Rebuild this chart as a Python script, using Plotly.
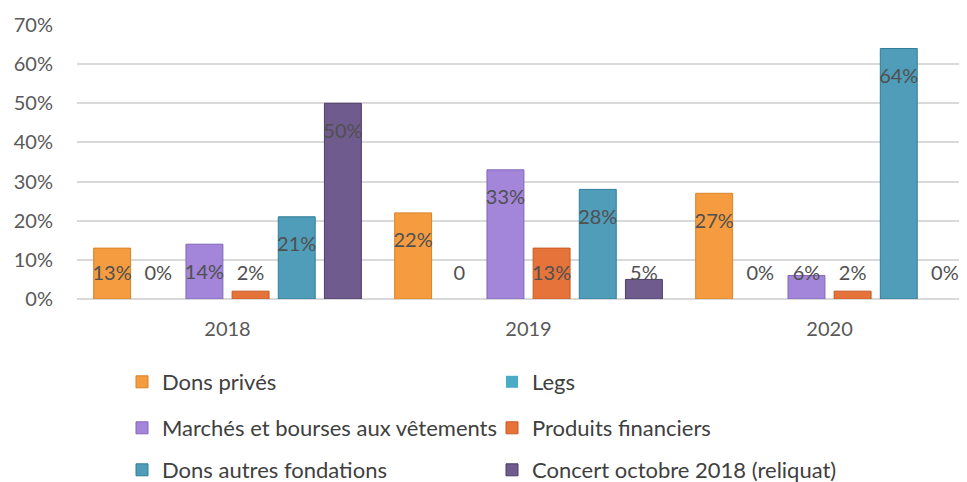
import plotly.graph_objects as go

years = ["2018", "2019", "2020"]
series_names = [
    "Dons privés",
    "Legs",
    "Marchés et bourses aux vêtements",
    "Produits financiers",
    "Dons autres fondations",
    "Concert octobre 2018 (reliquat)",
]
dons_prives = [0.13, 0.22, 0.27]
legs = [0.0, 0.0, 0.0]
marches = [0.14, 0.33, 0.06]
produits_financiers = [0.02, 0.13, 0.02]
dons_fondations = [0.21, 0.28, 0.64]
concert = [0.50, 0.05, 0.0]

legs_labels = ["0%", "0", "0%"]

values = [dons_prives, legs, marches, produits_financiers, dons_fondations, concert]
colors = ["#F59C40", "#4BACC6", "#A385DA", "#E6743A", "#4F9DB8", "#6F5B8E"]
line_colors = ["#D9822A", "#3A93AB", "#8366B8", "#C65A24", "#2F7E98", "#4E3D6A"]
legend_ids = ["legend", "legend", "legend2", "legend2", "legend3", "legend3"]

bargap = 0.08
bargroupgap = 0.2
n = len(series_names)
slot = (1 - bargap) / n

fig = go.Figure()
xs = list(range(len(years)))
for i, (name, vals) in enumerate(zip(series_names, values)):
    fig.add_trace(go.Bar(
        x=xs, y=vals, name=name,
        marker=dict(color=colors[i],
                    line=dict(color=line_colors[i],
                              width=[1 if v > 0 else 0 for v in vals])),
        legend=legend_ids[i],
        hoverinfo="skip",
    ))

# data labels (inside end, clamped near the base for small bars)
for i, vals in enumerate(values):
    if i == 1:
        texts = legs_labels
    else:
        texts = [f"{round(v * 100)}%" for v in vals]
    lx = [x + (i - (n - 1) / 2) * slot for x in xs]
    ly = [max(v - 0.075, 0.062) for v in vals]
    fig.add_trace(go.Scatter(
        x=lx, y=ly, text=texts, mode="text",
        textfont=dict(family="Lato", size=20, color="#505050"),
        showlegend=False, hoverinfo="skip", cliponaxis=False,
    ))

# the page shows the figure offset by 8px (body margin); compensate
off = 8
W, H = 967, 482
grid = "#D9D9D9"
fig.update_layout(
    width=W, height=H,
    margin=dict(l=77 - off, r=off, t=25 - off, b=H - (299 - off), autoexpand=False),
    paper_bgcolor="white", plot_bgcolor="white",
    barmode="group", bargap=bargap, bargroupgap=bargroupgap,
    font=dict(family="Lato", size=20, color="#595959"),
    xaxis=dict(
        range=[-0.5, 2.5 - 13 / 300], tickvals=xs, ticktext=years,
        showgrid=False, zeroline=False, showline=False,
        ticklabelstandoff=16, fixedrange=True,
    ),
    yaxis=dict(
        range=[0, 0.7], dtick=0.1, tickformat=".0%",
        showgrid=True, gridcolor=grid, gridwidth=2,
        zeroline=True, zerolinecolor=grid, zerolinewidth=2,
        showline=False, ticklabelstandoff=23, fixedrange=True,
    ),
)
leg_common = dict(orientation="h", xanchor="left", yanchor="middle",
                  xref="container", yref="container",
                  entrywidth=325, bgcolor="rgba(0,0,0,0)",
                  font=dict(family="Lato", size=22, color="#404040"))
lx0 = (162 - 40 - off) / W
fig.update_layout(
    legend=dict(x=lx0, y=1 - (382 - off) / H, **leg_common),
    legend2=dict(x=lx0, y=1 - (428 - off) / H, **leg_common),
    legend3=dict(x=lx0, y=1 - (470 - off) / H, **leg_common),
)

fig.write_html("out.html")
